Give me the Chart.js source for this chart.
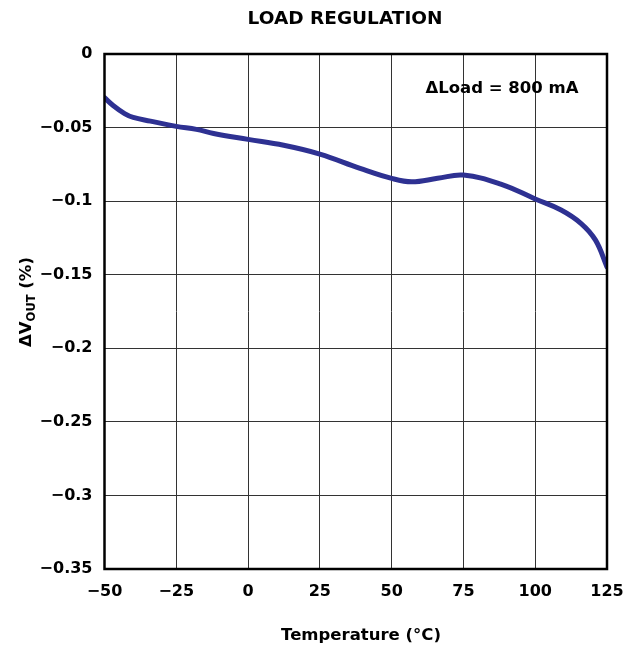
<!DOCTYPE html>
<html>
<head>
<meta charset="utf-8">
<script src="https://cdn.jsdelivr.net/npm/chart.js@4.4.0/dist/chart.umd.min.js"></script>
<style>
html,body{margin:0;padding:0;background:#fff;}
#c{display:block;}
</style>
</head>
<body>
<canvas id="c" width="633" height="652"></canvas>
<script>
// ---- data ----
const temperatures = [-50, -47, -43, -40, -34, -25, -18, -12, 0, 12.4, 25, 39, 50, 57, 66, 75, 88, 100, 109, 116, 121, 125];
const deltaVout    = [-0.0297, -0.035, -0.0405, -0.0431, -0.0456, -0.0492, -0.0512, -0.054, -0.058, -0.062, -0.068, -0.0777, -0.0845, -0.0868, -0.0845, -0.0823, -0.0884, -0.0985, -0.106, -0.1152, -0.1265, -0.1447];
const xTickValues = [-50, -25, 0, 25, 50, 75, 100, 125];
const xTickLabels = ['\u221250', '\u221225', '0', '25', '50', '75', '100', '125'];
const yTickValues = [0, -0.05, -0.1, -0.15, -0.2, -0.25, -0.3, -0.35];
const yTickLabels = ['0', '\u22120.05', '\u22120.1', '\u22120.15', '\u22120.2', '\u22120.25', '\u22120.3', '\u22120.35'];
const chartTitle = 'LOAD REGULATION';
const xAxisTitle = 'Temperature (\u00B0C)';
const annotationText = '\u0394Load = 800 mA';

const FONT = '"DejaVu Sans", "Liberation Sans", Arial, sans-serif';

function labelFor(values, labels, v) {
  for (let i = 0; i < values.length; i++) {
    if (Math.abs(values[i] - v) < 1e-9) return labels[i];
  }
  return '';
}

const decorations = {
  id: 'decorations',
  afterDraw(chart) {
    const ctx = chart.ctx;
    const a = chart.chartArea;
    ctx.save();
    // frame
    ctx.strokeStyle = '#000';
    ctx.lineWidth = 2.5;
    ctx.strokeRect(a.left, a.top, a.right - a.left, a.bottom - a.top);

    ctx.fillStyle = '#000';
    // title
    ctx.font = 'bold 18.5px ' + FONT;
    ctx.textAlign = 'center';
    ctx.textBaseline = 'middle';
    ctx.fillText(chartTitle, 345, 19);

    // annotation
    ctx.font = 'bold 16.5px ' + FONT;
    ctx.textAlign = 'center';
    ctx.fillText(annotationText, 502, 89);

    // x axis title
    ctx.font = 'bold 16.5px ' + FONT;
    ctx.fillText(xAxisTitle, 361, 636);

    // y axis title (rotated, with subscript)
    const big = 'bold 16.5px ' + FONT;
    const small = 'bold 11.5px ' + FONT;
    const p1 = '\u0394V', p2 = 'OUT', p3 = ' (%)';
    ctx.font = big; const w1 = ctx.measureText(p1).width; const w3 = ctx.measureText(p3).width;
    ctx.font = small; const w2 = ctx.measureText(p2).width;
    const total = w1 + w2 + w3;
    ctx.translate(31, 302);
    ctx.rotate(-Math.PI / 2);
    ctx.textAlign = 'left';
    ctx.textBaseline = 'alphabetic';
    let x = -total / 2;
    ctx.font = big; ctx.fillText(p1, x, 0); x += w1;
    ctx.font = small; ctx.fillText(p2, x, 4); x += w2;
    ctx.font = big; ctx.fillText(p3, x, 0);
    ctx.restore();
  }
};

const points = temperatures.map((t, i) => ({ x: t, y: deltaVout[i] }));

new Chart(document.getElementById('c'), {
  type: 'line',
  data: {
    datasets: [{
      data: points,
      borderColor: '#2E3192',
      borderWidth: 5,
      pointRadius: 0,
      fill: false,
      tension: 0.4,
      borderCapStyle: 'round',
      borderJoinStyle: 'round'
    }]
  },
  options: {
    responsive: false,
    animation: false,
    devicePixelRatio: 1,
    layout: { padding: { top: 54, right: 26, left: 0, bottom: 0 } },
    plugins: { legend: { display: false }, title: { display: false }, tooltip: { enabled: false } },
    scales: {
      x: {
        type: 'linear',
        min: -50, max: 125,
        afterFit(scale) { scale.height = 83; scale.paddingLeft = 0; scale.paddingRight = 0; },
        afterBuildTicks(scale) { scale.ticks = xTickValues.map(v => ({ value: v })); },
        grid: { color: '#333', lineWidth: 1, drawTicks: false },
        border: { display: false },
        ticks: {
          padding: 13,
          color: '#000',
          font: { family: FONT, size: 16, weight: 'bold' },
          maxRotation: 0,
          autoSkip: false,
          callback: (v) => labelFor(xTickValues, xTickLabels, v)
        }
      },
      y: {
        type: 'linear',
        min: -0.35, max: 0,
        afterFit(scale) { scale.width = 104.5; scale.paddingTop = 0; scale.paddingBottom = 0; },
        afterBuildTicks(scale) { scale.ticks = yTickValues.map(v => ({ value: v })); },
        grid: { color: '#333', lineWidth: 1, drawTicks: false },
        border: { display: false },
        ticks: {
          padding: 12,
          color: '#000',
          font: { family: FONT, size: 16, weight: 'bold' },
          autoSkip: false,
          callback: (v) => labelFor(yTickValues, yTickLabels, v)
        }
      }
    }
  },
  plugins: [decorations]
});
</script>
</body>
</html>
